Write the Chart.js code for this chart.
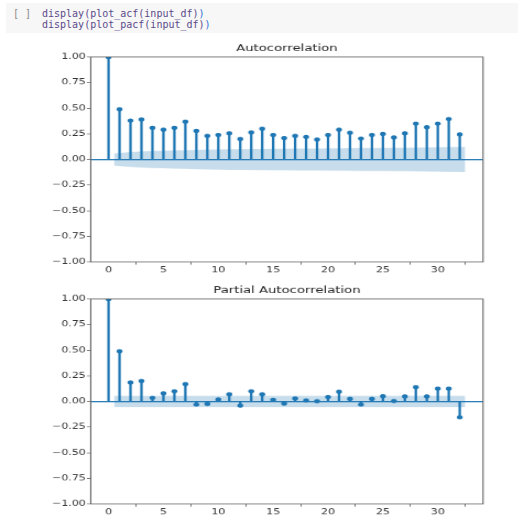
<!DOCTYPE html>
<html>
<head>
<meta charset="utf-8">
<script src="https://cdn.jsdelivr.net/npm/chart.js@4/dist/chart.umd.min.js"></script>
<style>
  html, body { margin: 0; padding: 0; background: #fff; overflow: hidden; width: 524px; height: 515px; }
  .cell { position: absolute; left: 6px; top: 3px; width: 512px; height: 30px; background: #f7f7f7; }
  .prompt { position: absolute; left: 13px; top: 8px; font: 10px/11px "DejaVu Sans Mono", monospace; color: #8a8a8a; }
  .code { position: absolute; left: 42px; top: 8px; font: 10px/11px "DejaVu Sans Mono", monospace; color: #5b4a8a; white-space: pre; }
  .code .p { color: #2f6fd6; }
  canvas { position: absolute; left: 0; }
</style>
</head>
<body>
<div class="cell"></div>
<div class="prompt">[ ]</div>
<div class="code">display(plot_acf(input_df)<span class="p">)</span>
display(plot_pacf(input_df)<span class="p">)</span></div>
<canvas id="acfChart" width="476" height="314" style="top:38px;width:524px;height:242px"></canvas>
<canvas id="pacfChart" width="476" height="314" style="top:280px;width:524px;height:242px"></canvas>
<script>
const lags = [0, 1, 2, 3, 4, 5, 6, 7, 8, 9, 10, 11, 12, 13, 14, 15, 16,
    17, 18, 19, 20, 21, 22, 23, 24, 25, 26, 27, 28, 29, 30, 31, 32];

const acfValues = [1.0, 0.49, 0.38, 0.39, 0.31, 0.29, 0.31, 0.37, 0.28, 0.23, 0.24,
    0.255, 0.20, 0.265, 0.30, 0.24, 0.21, 0.23, 0.22, 0.195, 0.24, 0.29, 0.26,
    0.205, 0.24, 0.25, 0.215, 0.255, 0.35, 0.315, 0.35, 0.395, 0.245];

const pacfValues = [1.0, 0.49, 0.186, 0.2, 0.036, 0.08, 0.1, 0.17, -0.03, -0.023, 0.02,
    0.07, -0.04, 0.1, 0.07, 0.017, -0.02, 0.03, 0.01, 0.003, 0.045, 0.095, 0.026,
    -0.03, 0.026, 0.052, 0.005, 0.05, 0.14, 0.05, 0.125, 0.125, -0.154];

// half width of the confidence band, lags 1..32
const acfBand = [0.060, 0.072, 0.078, 0.083, 0.086, 0.089, 0.092, 0.095, 0.097, 0.099,
    0.100, 0.101, 0.102, 0.103, 0.104, 0.105, 0.106, 0.107, 0.107, 0.108, 0.109,
    0.110, 0.111, 0.111, 0.112, 0.113, 0.114, 0.116, 0.118, 0.120, 0.122, 0.124];

const pacfBand = [0.055, 0.055, 0.055, 0.055, 0.055, 0.055, 0.055, 0.055, 0.055, 0.055,
    0.055, 0.055, 0.055, 0.055, 0.055, 0.055, 0.055, 0.055, 0.055, 0.055, 0.055,
    0.055, 0.055, 0.055, 0.055, 0.055, 0.055, 0.055, 0.055, 0.055, 0.055, 0.055];

const xTicks = [0, 5, 10, 15, 20, 25, 30];
const yTicks = [-1, -0.75, -0.5, -0.25, 0, 0.25, 0.5, 0.75, 1];
const xMin = -1.625;
const xMax = 34.125;

const blue = '#1f77b4';
const font = 'DejaVu Sans';

// the band is stretched half a lag past the first and last lag
const bandLags = lags.slice(1).map(function (l, i, a) {
    if (i === 0) return l - 0.5;
    if (i === a.length - 1) return l + 0.5;
    return l;
});

const frame = {
    id: 'frame',
    afterDraw: function (chart) {
        const a = chart.chartArea;
        const ctx = chart.ctx;
        ctx.save();
        ctx.strokeStyle = '#555';
        ctx.lineWidth = 1;
        ctx.strokeRect(a.left, a.top, a.right - a.left, a.bottom - a.top);
        ctx.restore();
    }
};

function renderCorr(canvasId, title, values, band) {
    const points = lags.map(function (l, i) { return { x: l, y: values[i] }; });
    new Chart(document.getElementById(canvasId), {
        type: 'scatter',
        data: {
            datasets: [
                {
                    type: 'scatter',
                    data: points,
                    pointRadius: 2.7,
                    pointBorderWidth: 0,
                    backgroundColor: blue
                },
                {
                    type: 'bar',
                    data: points,
                    backgroundColor: blue,
                    borderWidth: 0,
                    barThickness: 1.6
                },
                {
                    type: 'line',
                    data: [{ x: xMin, y: 0 }, { x: xMax, y: 0 }],
                    borderColor: blue,
                    borderWidth: 1.5,
                    pointRadius: 0
                },
                {
                    type: 'line',
                    data: bandLags.map(function (l, i) { return { x: l, y: band[i] }; }),
                    borderWidth: 0,
                    pointRadius: 0,
                    backgroundColor: 'rgba(31, 119, 180, 0.25)',
                    fill: '+1'
                },
                {
                    type: 'line',
                    data: bandLags.map(function (l, i) { return { x: l, y: -band[i] }; }),
                    borderWidth: 0,
                    pointRadius: 0,
                    fill: false
                }
            ]
        },
        options: {
            responsive: false,
            devicePixelRatio: 1,
            animation: false,
            events: [],
            layout: { padding: { left: 0, right: 37.2, top: 0, bottom: 0 } },
            plugins: {
                legend: { display: false },
                tooltip: { enabled: false },
                title: {
                    display: true,
                    text: title,
                    fullSize: false,
                    color: '#222',
                    font: { family: font, size: 12, weight: 'normal' },
                    padding: { top: 6.8, bottom: 3.45 }
                }
            },
            scales: {
                x: {
                    type: 'linear',
                    min: xMin,
                    max: xMax,
                    offset: false,
                    border: { display: false },
                    grid: { drawOnChartArea: false, tickLength: 3.5, tickColor: '#555', lineWidth: 0.8 },
                    afterBuildTicks: function (scale) {
                        scale.ticks = xTicks.map(function (v) { return { value: v }; });
                    },
                    afterFit: function (scale) { scale.height = 23.4; },
                    ticks: {
                        autoSkip: false,
                        maxRotation: 0,
                        padding: 1.5,
                        color: '#333',
                        font: { family: font, size: 10 },
                        callback: function (v) { return String(v); }
                    }
                },
                y: {
                    type: 'linear',
                    min: -1,
                    max: 1,
                    border: { display: false },
                    grid: { drawOnChartArea: false, tickLength: 3.5, tickColor: '#555', lineWidth: 0.8 },
                    afterBuildTicks: function (scale) {
                        scale.ticks = yTicks.map(function (v) { return { value: v }; });
                    },
                    afterFit: function (scale) { scale.width = 82.4; },
                    ticks: {
                        autoSkip: false,
                        padding: 1,
                        color: '#333',
                        font: { family: font, size: 10 },
                        callback: function (v) { return v.toFixed(2).replace('-', '\u2212'); }
                    }
                }
            }
        },
        plugins: [frame]
    });
}

renderCorr('acfChart', 'Autocorrelation', acfValues, acfBand);
renderCorr('pacfChart', 'Partial Autocorrelation', pacfValues, pacfBand);
</script>
</body>
</html>
